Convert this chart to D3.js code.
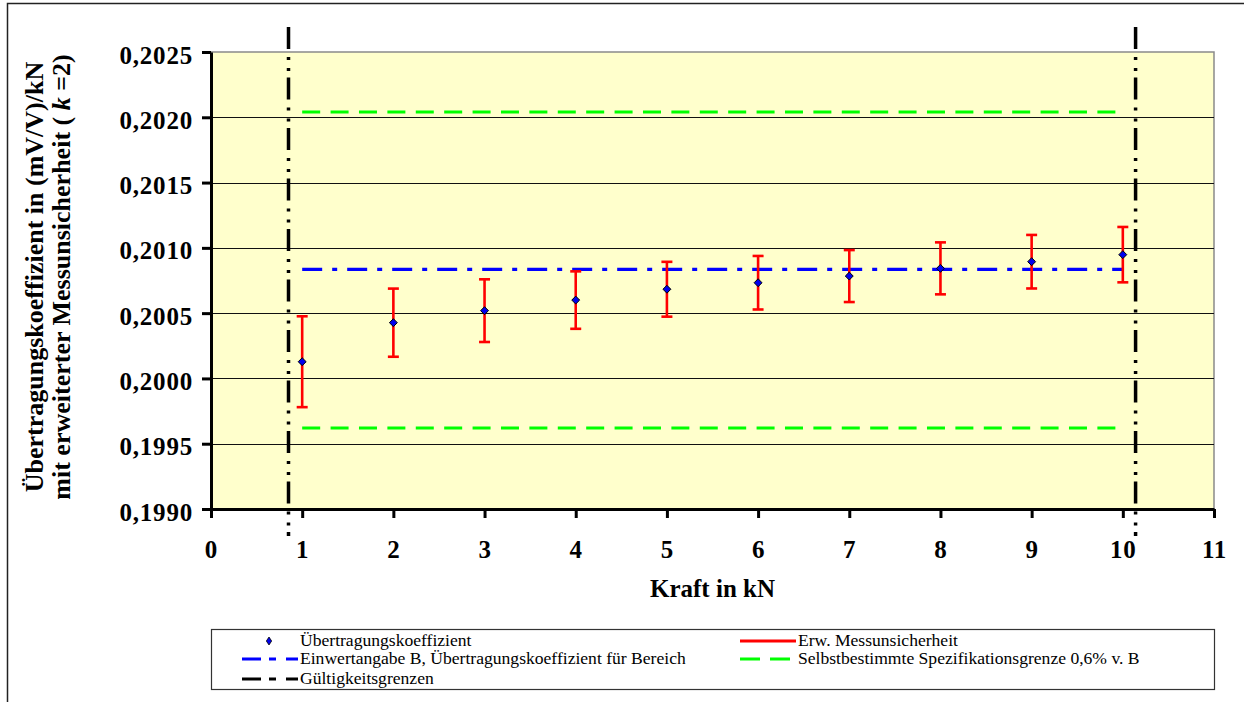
<!DOCTYPE html>
<html>
<head>
<meta charset="utf-8">
<script src="https://cdn.jsdelivr.net/npm/d3@7"></script>
<style>
  body { margin: 0; background: #fff; }
  svg { display: block; }
  text { font-family: "Liberation Serif", "Times New Roman", serif; }
</style>
</head>
<body>
<div id="chart"></div>
<script>
// data

var forces = [1, 2, 3, 4, 5, 6, 7, 8, 9, 10];
var coeffs = [0.200128, 0.200427, 0.200519, 0.200600, 0.200683, 0.200733, 0.200784, 0.200843, 0.200894, 0.200948];
var uncert = [0.000348, 0.000261, 0.000240, 0.000220, 0.000210, 0.000205, 0.000199, 0.000199, 0.000205, 0.000212];
var rangeValue = 0.200835;          // Einwertangabe B
var specLimits = [0.19962, 0.20204]; // 0,6% v. B
var validity = [0.85, 10.14];       // Gültigkeitsgrenzen
var xTicks = [0, 1, 2, 3, 4, 5, 6, 7, 8, 9, 10, 11];
var yTicks = [0.1990, 0.1995, 0.2000, 0.2005, 0.2010, 0.2015, 0.2020, 0.2025];

var legendItems = [
  { label: "Übertragungskoeffizient", kind: "marker" },
  { label: "Erw. Messunsicherheit", kind: "error" },
  { label: "Einwertangabe B, Übertragungskoeffizient für Bereich", kind: "blue" },
  { label: "Selbstbestimmte Spezifikationsgrenze 0,6% v. B", kind: "green" },
  { label: "Gültigkeitsgrenzen", kind: "black" }
];

var FONT = "'Liberation Serif', 'Times New Roman', serif";

var svgWidth = 1244;
var svgHeight = 702;

var plot = { left: 211, right: 1214, top: 52, bottom: 509 };

var svg = d3.select("#chart")
  .append("svg")
  .attr("width", svgWidth)
  .attr("height", svgHeight)
  .attr("font-family", FONT);

// outer chart border
svg.append("path")
  .attr("d", "M7.5," + svgHeight + " V3.5 H" + svgWidth)
  .attr("fill", "none")
  .attr("stroke", "#222")
  .attr("stroke-width", 1.5);

var xScale = d3.scaleLinear().domain([0, 11]).range([plot.left, plot.right]);
var yScale = d3.scaleLinear().domain([0.1990, 0.2025]).range([plot.bottom, plot.top]);

// plot area
svg.append("rect")
  .attr("x", plot.left)
  .attr("y", plot.top)
  .attr("width", plot.right - plot.left)
  .attr("height", plot.bottom - plot.top)
  .attr("fill", "#FFFFCC")
  .attr("stroke", "#8a8a8a")
  .attr("stroke-width", 1.5);

// gridlines
svg.append("g").selectAll("line")
  .data(yTicks.slice(1, -1))
  .enter().append("line")
  .attr("x1", plot.left).attr("x2", plot.right)
  .attr("y1", d => Math.round(yScale(d)) + 0.5)
  .attr("y2", d => Math.round(yScale(d)) + 0.5)
  .attr("stroke", "#111")
  .attr("stroke-width", 1);

// spec limits (green dashed)
svg.append("g").selectAll("line")
  .data(specLimits)
  .enter().append("line")
  .attr("x1", xScale(forces[0])).attr("x2", xScale(forces[forces.length - 1]))
  .attr("y1", d => yScale(d)).attr("y2", d => yScale(d))
  .attr("stroke", "#00FF00")
  .attr("stroke-width", 3)
  .attr("stroke-dasharray", "18,10.4");

// range value B (blue dash-dot)
svg.append("line")
  .attr("x1", xScale(forces[0])).attr("x2", xScale(forces[forces.length - 1]))
  .attr("y1", yScale(rangeValue)).attr("y2", yScale(rangeValue))
  .attr("stroke", "#0000FF")
  .attr("stroke-width", 3.2)
  .attr("stroke-dasharray", "20,10,5,10");

// validity limits (black dash-dot-dot)
svg.append("g").selectAll("line")
  .data(validity)
  .enter().append("line")
  .attr("x1", d => xScale(d)).attr("x2", d => xScale(d))
  .attr("y1", 27).attr("y2", 536)
  .attr("stroke", "#000")
  .attr("stroke-width", 3.5)
  .attr("stroke-dasharray", "22,8,3,8,3,6.5");

// axes
var yAxis = d3.axisLeft(yScale).tickValues(yTicks).tickSize(9).tickSizeOuter(0)
  .tickFormat(d => d.toFixed(4).replace(".", ","));
var xAxis = d3.axisBottom(xScale).tickValues(xTicks).tickSize(9).tickSizeOuter(0);

var gy = svg.append("g")
  .attr("transform", `translate(${plot.left}, 0)`)
  .call(yAxis);
var gx = svg.append("g")
  .attr("transform", `translate(0, ${plot.bottom})`)
  .call(xAxis);

[gx, gy].forEach(function(g) {
  g.attr("font-family", FONT);
  g.select(".domain").attr("stroke", "#000").attr("stroke-width", 3);
  g.selectAll(".tick line").attr("stroke", "#000").attr("stroke-width", 3);
  g.selectAll(".tick text")
    .attr("font-size", 25)
    .attr("font-weight", "bold")
    .attr("letter-spacing", 0.8)
    .attr("fill", "#000");
});
gy.selectAll(".tick text").attr("x", -18).attr("dy", 11);
gx.selectAll(".tick text").attr("y", 49).attr("dy", 0);

// error bars
var bars = svg.append("g").selectAll("g")
  .data(forces)
  .enter().append("g")
  .attr("stroke", "#FF0000")
  .attr("stroke-width", 2.6);

bars.append("line")
  .attr("x1", (d) => xScale(d)).attr("x2", (d) => xScale(d))
  .attr("y1", (d, i) => yScale(coeffs[i] + uncert[i]))
  .attr("y2", (d, i) => yScale(coeffs[i] - uncert[i]));
bars.append("line")
  .attr("x1", d => xScale(d) - 5.5).attr("x2", d => xScale(d) + 5.5)
  .attr("y1", (d, i) => yScale(coeffs[i] + uncert[i]))
  .attr("y2", (d, i) => yScale(coeffs[i] + uncert[i]));
bars.append("line")
  .attr("x1", d => xScale(d) - 5.5).attr("x2", d => xScale(d) + 5.5)
  .attr("y1", (d, i) => yScale(coeffs[i] - uncert[i]))
  .attr("y2", (d, i) => yScale(coeffs[i] - uncert[i]));

// points
var diamond = d3.symbol().type(d3.symbolDiamond2).size(40);
svg.append("g").selectAll("path")
  .data(forces)
  .enter().append("path")
  .attr("d", diamond)
  .attr("transform", (d, i) => `translate(${xScale(d)}, ${yScale(coeffs[i])})`)
  .attr("fill", "#0000EE")
  .attr("stroke", "#000")
  .attr("stroke-width", 1);

// axis titles
svg.append("text")
  .attr("x", (plot.left + plot.right) / 2)
  .attr("y", 597)
  .attr("text-anchor", "middle")
  .attr("font-size", 25)
  .attr("font-weight", "bold")
  .text("Kraft in kN");

var yTitle = svg.append("g")
  .attr("transform", "translate(0, 277) rotate(-90)")
  .attr("font-size", 26)
  .attr("font-weight", "bold")
  .attr("text-anchor", "middle");
yTitle.append("text")
  .attr("x", 0).attr("y", 43)
  .text("Übertragungskoeffizient in (mV/V)/kN");
var line2 = yTitle.append("text").attr("x", 0).attr("y", 70);
line2.append("tspan").text("mit erweiterter Messunsicherheit ( ");
line2.append("tspan").attr("font-style", "italic").text("k");
line2.append("tspan").text(" =2)");

// legend
var legend = svg.append("g");
legend.append("rect")
  .attr("x", 211.5).attr("y", 629.5)
  .attr("width", 1003).attr("height", 60)
  .attr("fill", "#fff")
  .attr("stroke", "#333")
  .attr("stroke-width", 1.2);

var legendPos = [
  { x: 242, y: 641 },
  { x: 740, y: 641 },
  { x: 242, y: 659 },
  { x: 740, y: 659 },
  { x: 242, y: 679 }
];

legendItems.forEach(function(item, i) {
  var p = legendPos[i];
  var g = legend.append("g").attr("transform", `translate(${p.x}, ${p.y})`);
  if (item.kind === "marker") {
    g.append("path")
      .attr("d", d3.symbol().type(d3.symbolDiamond2).size(28))
      .attr("transform", "translate(27, 0) scale(0.8, 1.2)")
      .attr("fill", "#0000EE").attr("stroke", "#000").attr("stroke-width", 0.8);
  } else {
    var style = {
      error: { c: "#FF0000", d: null },
      blue: { c: "#0000FF", d: "19,8,7,10" },
      green: { c: "#00FF00", d: "20,10" },
      black: { c: "#000", d: "19,8,7,10" }
    }[item.kind];
    g.append("line")
      .attr("x1", 0).attr("x2", 56)
      .attr("stroke", style.c)
      .attr("stroke-width", 3)
      .attr("stroke-dasharray", style.d);
  }
  g.append("text")
    .attr("transform", "translate(58, 5) scale(1.1, 1)")
    .attr("font-family", FONT)
    .attr("font-size", 16)
    .text(item.label);
});
</script>
</body>
</html>
